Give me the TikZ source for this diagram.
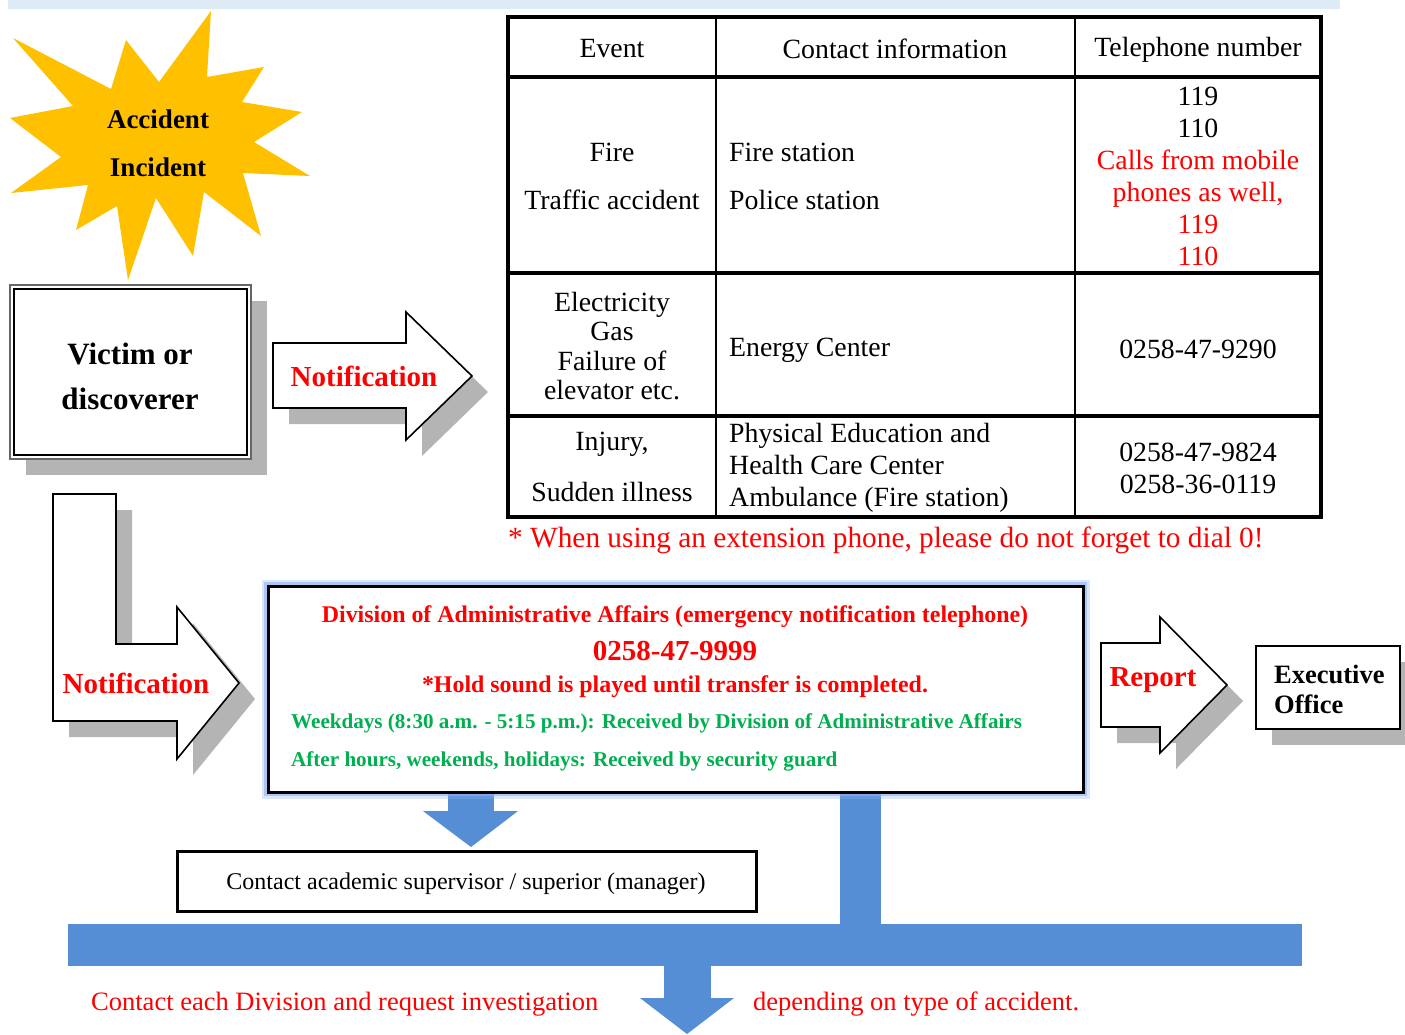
\documentclass[tikz,border=0pt]{standalone}
\usepackage{fontspec}
\setmainfont{Liberation Serif}
\definecolor{starY}{HTML}{FFC000}
\definecolor{bandB}{HTML}{DEEAF6}
\definecolor{flowB}{HTML}{558ED5}
\definecolor{shadowG}{HTML}{B4B4B4}
\definecolor{redT}{HTML}{FF0000}
\definecolor{greenT}{HTML}{00B050}
\definecolor{glowB}{HTML}{8FB0F0}
\begin{document}
\begin{tikzpicture}[x=1pt,y=-1pt,
  arrowshape/.style={draw=black, fill=white, line width=1.6pt, line join=miter},
  shadowshape/.style={fill=shadowG, draw=none},
  tcell/.style={inner sep=0pt, font=\fontsize{27.8}{32}\selectfont, align=center},
  tleft/.style={inner sep=0pt, font=\fontsize{27.8}{32}\selectfont, align=left, anchor=west},
  boldlbl/.style={inner sep=0pt, font=\bfseries\fontsize{27}{48}\selectfont, align=center},
  redlbl/.style={inner sep=0pt, text=redT, font=\bfseries\fontsize{29}{34}\selectfont},
  greenlbl/.style={inner sep=0pt, text=greenT, anchor=west, font=\bfseries\fontsize{21.1}{24}\selectfont},
  flow/.style={fill=flowB, draw=none}
]
\useasboundingbox (0,0) rectangle (1405,1034);
% top band
\fill[bandB] (8,0) rectangle (1340,9);

% starburst
\fill[starY] (126,40) -- (159,82) -- (211,11) -- (207,77) -- (264,67) -- (242,102)
  -- (302,112) -- (254,142) -- (310,176) -- (243,173) -- (261,236) -- (204,192)
  -- (193,256) -- (156,198) -- (128,280) -- (117,206) -- (76,230) -- (88,185)
  -- (11,193) -- (61,157) -- (10,118) -- (73,106) -- (13,38) -- (111,89) -- cycle;
\node[boldlbl] (acc) at (158,119) {Accident};
\node[boldlbl] (inc) at (158,167) {Incident};

% victim box
\fill[shadowG] (26,301) rectangle (267,475);
\draw[line width=2pt, draw=black!60, fill=white] (10,285) rectangle (251,459);
\draw[line width=1.8pt, draw=black] (14,289) rectangle (247,455);
\node[inner sep=0pt, font=\bfseries\fontsize{31}{45}\selectfont, align=center] (victim) at (130,376) {Victim or\\discoverer};

% notification arrow right
\path[shadowshape, shift={(16,16)}] (273,343) -- (406,343) -- (406,312) -- (472,376) -- (406,440) -- (406,408) -- (273,408) -- cycle;
\draw[arrowshape] (273,343) -- (406,343) -- (406,312) -- (472,376) -- (406,440) -- (406,408) -- (273,408) -- cycle;
\node[redlbl] (notif1) at (364,376) {Notification};

% notification L arrow
\path[shadowshape, shift={(16,16)}] (53,494) -- (116,494) -- (116,644) -- (177,644) -- (177,607) -- (239,683) -- (177,759) -- (177,721) -- (53,721) -- cycle;
\draw[arrowshape] (53,494) -- (116,494) -- (116,644) -- (177,644) -- (177,607) -- (239,683) -- (177,759) -- (177,721) -- (53,721) -- cycle;
\node[redlbl] (notif2) at (136,683) {Notification};

% table
\draw[line width=2pt] (716,17) -- (716,517);
\draw[line width=2pt] (1075,17) -- (1075,517);
\draw[line width=4pt] (508,77) -- (1321,77);
\draw[line width=4pt] (508,273) -- (1321,273);
\draw[line width=4pt] (508,416) -- (1321,416);
\draw[line width=4pt] (508,17) rectangle (1321,517);

\node[tcell] (hEvent) at (612,49) {Event};
\node[tcell] (hContact) at (895,49) {Contact information};
\node[tcell] (hPhone) at (1198,50) {Telephone number};

\node[tcell] (eFire) at (612,152) {Fire};
\node[tcell] (eTraffic) at (612,200) {Traffic accident};
\node[tleft] (cFire) at (729,152) {Fire station};
\node[tleft] (cPolice) at (729,200) {Police station};
\node[tcell] (pEmerg) at (1198,176) {119\\110\\\textcolor{redT}{Calls from mobile}\\\textcolor{redT}{phones as well,}\\\textcolor{redT}{119}\\\textcolor{redT}{110}};

\node[tcell, font=\fontsize{27.8}{29.3}\selectfont] (eElec) at (612,346) {Electricity\\Gas\\Failure of\\elevator etc.};
\node[tleft] (cEnergy) at (729,350) {Energy Center};
\node[tcell] (pEnergy) at (1198,349) {0258-47-9290};

\node[tcell] (eInjury) at (612,444) {Injury,};
\node[tcell] (eIll) at (612,492) {Sudden illness};
\node[tleft] (cHealth) at (729,468) {Physical Education and\\Health Care Center\\Ambulance (Fire station)};
\node[tcell] (pHealth) at (1198,468) {0258-47-9824\\0258-36-0119};

\node[inner sep=0pt, anchor=west, text=redT, font=\fontsize{29.3}{32}\selectfont] (extnote) at (508,540) {* When using an extension phone, please do not forget to dial 0!};

% blue flows
\fill[flowB] (448,790) rectangle (494,812);
\fill[flowB] (423,811) -- (518,811) -- (471,847) -- cycle;
\fill[flowB] (840,790) rectangle (881,925);
\fill[flowB] (68,924) rectangle (1302,966);
\fill[flowB] (664,965) rectangle (711,999);
\fill[flowB] (640,998) -- (734,998) -- (687,1034) -- cycle;

% central box
\draw[glowB, opacity=0.3, line width=13pt] (268,586) rectangle (1083,792);
\draw[glowB, opacity=0.6, line width=8pt] (268,586) rectangle (1083,792);
\draw[line width=3pt, fill=white] (268,586) rectangle (1083,792);
\node[inner sep=0pt, text=redT, font=\bfseries\fontsize{23.9}{26}\selectfont] (divAA) at (675,617) {Division of Administrative Affairs (emergency notification telephone)};
\node[inner sep=0pt, text=redT, font=\bfseries\fontsize{29}{34}\selectfont] (divTel) at (675,651) {0258-47-9999};
\node[inner sep=0pt, text=redT, font=\bfseries\fontsize{23.9}{26}\selectfont] (hold) at (675,687) {*Hold sound is played until transfer is completed.};
\node[greenlbl] (weekdays) at (291,723) {Weekdays (8:30 a.m. - 5:15 p.m.): Received by Division of Administrative Affairs};
\node[greenlbl] (afterh) at (291,761) {After hours, weekends, holidays: Received by security guard};

% report arrow
\path[shadowshape, shift={(16,16)}] (1101,643) -- (1160,643) -- (1160,617) -- (1227,685) -- (1160,753) -- (1160,727) -- (1101,727) -- cycle;
\draw[arrowshape] (1101,643) -- (1160,643) -- (1160,617) -- (1227,685) -- (1160,753) -- (1160,727) -- (1101,727) -- cycle;
\node[redlbl] (report) at (1153,680) {Report};

% executive office
\fill[shadowG] (1272,662) rectangle (1416,745);
\draw[line width=2pt, fill=white] (1256,646) rectangle (1400,729);
\node[inner sep=0pt, anchor=west, align=left, font=\bfseries\fontsize{26.5}{30}\selectfont] (exec) at (1274,689) {Executive\\Office};

% contact supervisor box
\draw[line width=3pt, fill=white] (177,851) rectangle (756,911);
\node[inner sep=0pt, font=\fontsize{24}{26}\selectfont] (supervisor) at (466,884) {Contact academic supervisor / superior (manager)};

% bottom text
\node[inner sep=0pt, anchor=west, text=redT, font=\fontsize{26.5}{30}\selectfont] (contactDiv) at (91,1004) {Contact each Division and request investigation};
\node[inner sep=0pt, anchor=west, text=redT, font=\fontsize{26.5}{30}\selectfont] (depending) at (753,1004) {depending on type of accident.};
\end{tikzpicture}
\end{document}
